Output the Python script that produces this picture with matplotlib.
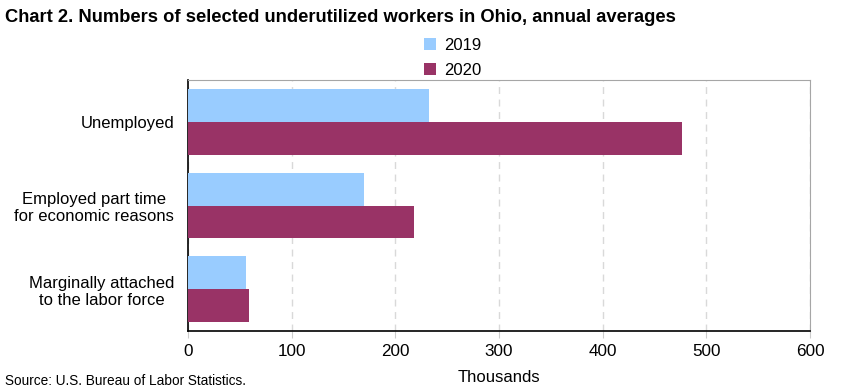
import matplotlib
matplotlib.use("Agg")
import matplotlib.pyplot as plt
import numpy as np

plt.rcParams['font.family'] = ['Liberation Sans', 'DejaVu Sans']

categories = ["Unemployed", "Employed part time\nfor economic reasons", "Marginally attached\nto the labor force"]
series_names = ["2019", "2020"]
values_2019 = [232, 170, 56]
values_2020 = [477, 218, 59]
colors = ["#99ccff", "#993366"]
xticks = [0, 100, 200, 300, 400, 500, 600]

fig = plt.figure(figsize=(8.41, 3.91), dpi=100)
ax = fig.add_axes([188/841, 1 - 331/391, (810 - 188)/841, (331 - 80)/391])

y = np.arange(len(categories))
h = 0.393
ax.barh(y - h/2, values_2019, height=h, color=colors[0], label=series_names[0], zorder=3)
ax.barh(y + h/2, values_2020, height=h, color=colors[1], label=series_names[1], zorder=3)

ax.set_ylim(2.5, -0.5)
ax.set_xlim(0, 600)
ax.set_xticks(xticks)
ax.set_xticklabels([str(t) for t in xticks], fontsize=12.3)
ax.set_yticks(y)
ax.set_yticklabels(categories, fontsize=12, multialignment='center')
ax.tick_params(axis='y', length=0, pad=10)
ax.tick_params(axis='x', length=5, width=0.8, color='#cccccc', pad=4)

ax.grid(axis='x', color='#d9d9d9', linestyle=(0, (5, 4)), linewidth=1, zorder=0)
ax.spines['left'].set_color('black')
ax.spines['bottom'].set_color('black')
ax.spines['left'].set_linewidth(1.2)
ax.spines['bottom'].set_linewidth(1.2)
ax.spines['top'].set_color('#a6a6a6')
ax.spines['right'].set_color('#a6a6a6')

ax.set_xlabel("Thousands", fontsize=12, labelpad=8)

fig.text(5/841, 1 - 17/391, "Chart 2. Numbers of selected underutilized workers in Ohio, annual averages",
         fontsize=13.2, fontweight='bold', va='center', ha='left')

leg = fig.legend(loc='center', bbox_to_anchor=(453/841, 1 - 58/391), ncol=1, frameon=False,
                 fontsize=12, handlelength=0.7, handleheight=0.75, handletextpad=0.5,
                 labelspacing=0.6)

fig.text(5/841, 1 - 381/391, "Source: U.S. Bureau of Labor Statistics.", fontsize=9.8, va='center', ha='left')

fig.savefig("out.png", dpi=100)
